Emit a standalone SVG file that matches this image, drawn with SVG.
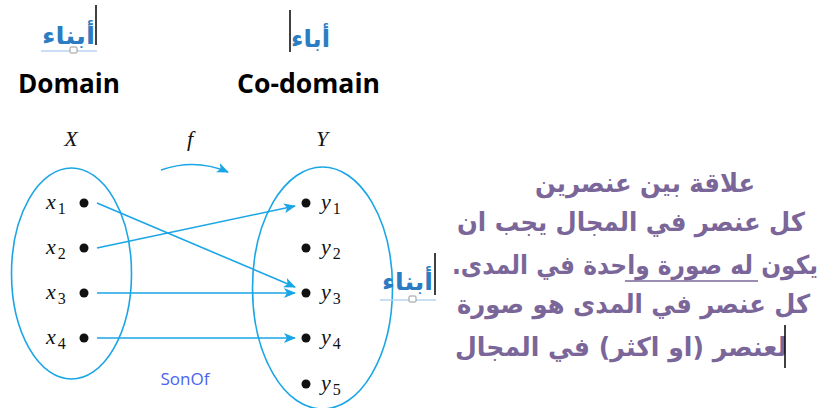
<svg xmlns="http://www.w3.org/2000/svg" width="832" height="408" viewBox="0 0 832 408">
<defs>
<style>
.ar{font-family:"DejaVu Sans",sans-serif;font-weight:bold;fill:#2b7cc2;}
.en{font-family:"Open Sans","Liberation Sans",sans-serif;font-weight:bold;fill:#000;}
.m{font-family:"Liberation Serif",serif;font-style:italic;fill:#111;font-size:22px;}
.sub{font-family:"Liberation Serif",serif;font-style:normal;font-size:16px;}
.body{font-family:"DejaVu Sans",sans-serif;font-weight:bold;fill:#7a6699;font-size:26px;}
.cur{stroke:#000;stroke-width:1.5;}
.ell{fill:none;stroke:#1aa6e6;stroke-width:1.6;}
.arr{fill:none;stroke:#1aa6e6;stroke-width:1.6;marker-end:url(#ah);}
.sel{stroke:#b8d4ef;stroke-width:1.5;}
</style>
<marker id="ah" viewBox="0 0 12 10" refX="11" refY="5" markerWidth="12" markerHeight="10" markerUnits="userSpaceOnUse" orient="auto">
<path d="M0,0 L12,5 L0,10 L3,5 Z" fill="#1aa6e6"/>
</marker>
</defs>
<rect width="832" height="408" fill="#fff"/>

<g id="label-abnaa-top">
<line class="sel" x1="41" y1="51" x2="97" y2="51"/>
<rect x="70" y="47" width="7" height="6" rx="1" fill="#fff" stroke="#999"/>
<text class="ar" x="42" y="44" font-size="24" textLength="53" lengthAdjust="spacingAndGlyphs">أبناء</text>
<line class="cur" x1="96" y1="5" x2="96" y2="45"/>
</g>
<g id="label-abaa-top">
<text class="ar" x="291" y="47" font-size="24" textLength="39" lengthAdjust="spacingAndGlyphs">أباء</text>
<line class="cur" x1="290" y1="10" x2="290" y2="52"/>
</g>
<g id="domain"><text class="en" x="18" y="93" font-size="26" textLength="102" lengthAdjust="spacingAndGlyphs">Domain</text></g>
<g id="codomain"><text class="en" x="237" y="93" font-size="26" textLength="143" lengthAdjust="spacingAndGlyphs">Co-domain</text></g>

<g id="set-X">
<text class="m" x="71" y="146" text-anchor="middle">X</text>
<ellipse class="ell" cx="71.5" cy="273.5" rx="60" ry="105.5"/>
<text class="m" x="46" y="209">x<tspan class="sub" dx="2" dy="5">1</tspan></text>
<text class="m" x="46" y="254">x<tspan class="sub" dx="2" dy="5">2</tspan></text>
<text class="m" x="46" y="299">x<tspan class="sub" dx="2" dy="5">3</tspan></text>
<text class="m" x="46" y="344">x<tspan class="sub" dx="2" dy="5">4</tspan></text>
<circle cx="84" cy="203" r="4.5" fill="#111"/>
<circle cx="84" cy="248" r="4.5" fill="#111"/>
<circle cx="84" cy="293" r="4.5" fill="#111"/>
<circle cx="84" cy="338" r="4.5" fill="#111"/>
</g>

<g id="set-Y">
<text class="m" x="322" y="146" text-anchor="middle">Y</text>
<ellipse class="ell" cx="322.5" cy="288" rx="70" ry="121"/>
<circle cx="306" cy="203" r="4.5" fill="#111"/>
<circle cx="306" cy="248" r="4.5" fill="#111"/>
<circle cx="306" cy="293" r="4.5" fill="#111"/>
<circle cx="306" cy="338" r="4.5" fill="#111"/>
<circle cx="306" cy="384" r="4.5" fill="#111"/>
<text class="m" x="321" y="209">y<tspan class="sub" dx="2" dy="5">1</tspan></text>
<text class="m" x="321" y="254">y<tspan class="sub" dx="2" dy="5">2</tspan></text>
<text class="m" x="321" y="299">y<tspan class="sub" dx="2" dy="5">3</tspan></text>
<text class="m" x="321" y="344">y<tspan class="sub" dx="2" dy="5">4</tspan></text>
<text class="m" x="321" y="390">y<tspan class="sub" dx="2" dy="5">5</tspan></text>
</g>

<g id="f-label"><text class="m" x="190" y="146" text-anchor="middle">f</text></g>

<g id="connectors">
<path class="arr" d="M161,170 Q195,158 228,172"/>
<line class="arr" x1="97" y1="203" x2="295" y2="287"/>
<line class="arr" x1="97" y1="248" x2="295" y2="206"/>
<line class="arr" x1="97" y1="293" x2="295" y2="293"/>
<line class="arr" x1="97" y1="338" x2="295" y2="338"/>
</g>

<g id="sonof"><text x="185" y="385" text-anchor="middle" font-family="'Open Sans','Liberation Sans',sans-serif" font-size="17" fill="#4a63f0">SonOf</text></g>

<g id="label-abnaa-side">
<line class="sel" x1="380" y1="300" x2="436" y2="300"/>
<rect x="409" y="296" width="7" height="6" rx="1" fill="#fff" stroke="#999"/>
<text class="ar" x="382" y="290" font-size="24" textLength="51" lengthAdjust="spacingAndGlyphs">أبناء</text>
<line class="cur" x1="435" y1="253" x2="435" y2="295"/>
</g>

<g id="description">
<text class="body" x="535" y="192" textLength="220" lengthAdjust="spacingAndGlyphs">علاقة بين عنصرين</text>
<text class="body" x="457" y="231" textLength="348" lengthAdjust="spacingAndGlyphs">كل عنصر في المجال يجب ان</text>
<text class="body" x="452" y="274" textLength="366" lengthAdjust="spacingAndGlyphs">يكون له صورة واحدة في المدى.&#x200F;</text>
<line x1="625" y1="281" x2="758" y2="281" stroke="#7a6699" stroke-width="1.5"/>
<text class="body" x="457" y="313" textLength="353" lengthAdjust="spacingAndGlyphs">كل عنصر في المدى هو صورة</text>
<text class="body" x="455" y="356" textLength="332" lengthAdjust="spacingAndGlyphs">لعنصر (او اكثر) في المجال</text>
<line class="cur" x1="785" y1="325" x2="785" y2="368"/>
</g>
</svg>
